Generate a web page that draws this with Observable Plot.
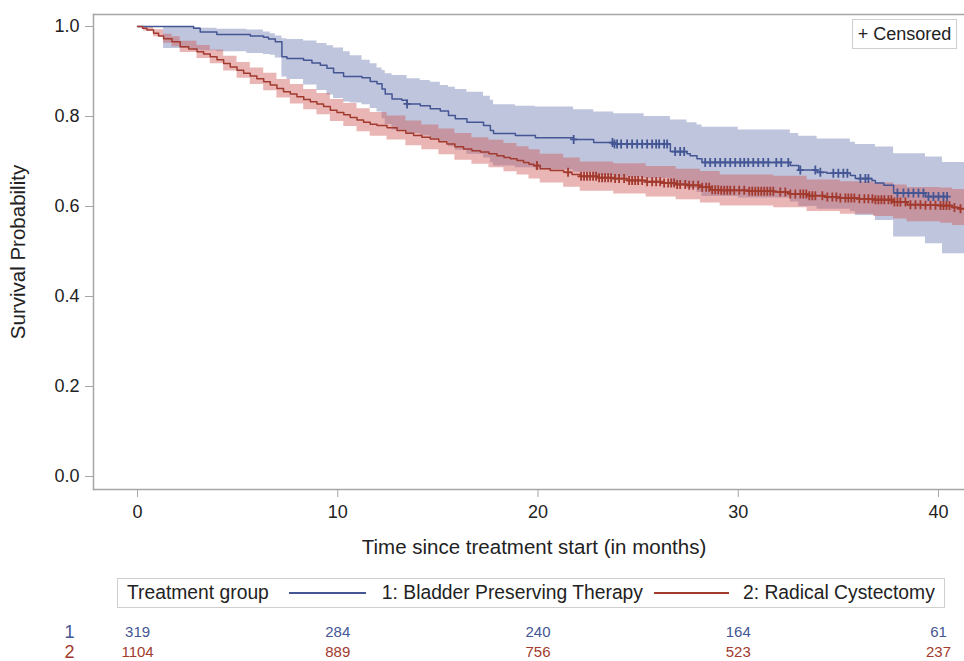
<!DOCTYPE html>
<html>
<head>
<meta charset="utf-8">
<script src="https://cdn.jsdelivr.net/npm/d3@7"></script>
<script src="https://cdn.jsdelivr.net/npm/@observablehq/plot@0.6"></script>
<style>
  html, body { margin: 0; padding: 0; background: #fff; }
  #wrap { position: relative; width: 964px; height: 661px; overflow: hidden; font-family: "Liberation Sans", Arial, sans-serif; color: #222; }
  #main { position: absolute; left: 0; top: 0; }
  #censLegend { position: absolute; left: 852px; top: 19px; width: 105px; height: 30px; box-sizing: border-box; border: 1px solid #cfcfcf; background: #fff; font-size: 18px; line-height: 28px; text-align: center; white-space: nowrap; }
  #legend { position: absolute; left: 117px; top: 578px; width: 828px; height: 30px; box-sizing: border-box; border: 1px solid #cfcfcf; display: flex; align-items: center; font-size: 19.3px; white-space: nowrap; }
  #legend .sw { display: inline-block; height: 1.5px; }
  #risk { position: absolute; left: 0; top: 619px; }
</style>
</head>
<body>
<div id="wrap">
  <div id="main"></div>
  <div id="censLegend">+ Censored</div>
  <div id="legend">
    <span style="margin-left:9px">Treatment group</span>
    <span class="sw" style="margin-left:20px;width:77px;background:#445694"></span>
    <span style="margin-left:16px">1: Bladder Preserving Therapy</span>
    <span class="sw" style="margin-left:11px;width:75px;background:#A23A2E"></span>
    <span style="margin-left:14px">2: Radical Cystectomy</span>
  </div>
  <div id="risk"></div>
</div>
<script>
// ---------- data ----------
const groups = ["1", "2"];
const groupNames = ["1: Bladder Preserving Therapy", "2: Radical Cystectomy"];

// Group 1: Bladder Preserving Therapy (KM step curve)
const blueTime = [0, 2.8, 3.13, 3.96, 5.63, 6.29, 6.54, 6.88, 7.21, 7.46, 8.29, 8.71, 9.13, 9.46, 9.79, 10.29, 11.21, 11.62, 11.96, 12.21, 12.37, 12.71, 13.2, 13.46, 14.12, 14.62, 15.12, 15.53, 15.87, 16.45, 17.28, 17.62, 17.78, 18.87, 19.87, 21.78, 22.78, 23.78, 26.61, 27.44, 27.6, 27.94, 28.19, 32.6, 33.02, 33.94, 34.43, 35.6, 35.85, 36.68, 36.85, 37.27, 37.76, 39.35, 40.43];
const blueSurv = [1.0, 0.996, 0.988, 0.982, 0.979, 0.976, 0.972, 0.966, 0.933, 0.929, 0.925, 0.919, 0.914, 0.907, 0.897, 0.889, 0.886, 0.878, 0.873, 0.861, 0.85, 0.839, 0.836, 0.828, 0.824, 0.817, 0.812, 0.802, 0.795, 0.787, 0.78, 0.769, 0.762, 0.758, 0.753, 0.749, 0.742, 0.739, 0.722, 0.717, 0.713, 0.706, 0.698, 0.691, 0.681, 0.676, 0.674, 0.669, 0.662, 0.658, 0.652, 0.647, 0.63, 0.622, 0.622];
const blueBandTime = [0, 1.3, 2.8, 3.13, 3.96, 5.46, 6.29, 6.63, 6.88, 7.21, 7.46, 8.29, 8.96, 9.46, 9.79, 10.29, 10.62, 11.21, 11.62, 11.96, 12.21, 12.37, 12.71, 13.46, 14.12, 14.62, 15.12, 15.53, 15.87, 16.45, 17.28, 17.62, 17.78, 18.87, 19.87, 21.78, 22.78, 23.78, 25.3, 26.61, 27.44, 27.94, 28.19, 30.0, 32.6, 33.02, 33.94, 35.6, 35.85, 36.85, 37.76, 39.35, 40.2, 41.3];
const blueBandLo = [1.0, 0.951, 0.947, 0.946, 0.944, 0.94, 0.938, 0.936, 0.93, 0.888, 0.882, 0.87, 0.858, 0.848, 0.84, 0.832, 0.83, 0.826, 0.818, 0.81, 0.795, 0.782, 0.77, 0.762, 0.757, 0.75, 0.744, 0.733, 0.725, 0.716, 0.708, 0.697, 0.69, 0.686, 0.681, 0.676, 0.669, 0.665, 0.662, 0.645, 0.64, 0.631, 0.622, 0.619, 0.61, 0.6, 0.594, 0.589, 0.58, 0.569, 0.532, 0.517, 0.495, 0.495];
const blueBandHi = [1.0, 1.0, 0.998, 0.996, 0.994, 0.992, 0.988, 0.984, 0.979, 0.973, 0.971, 0.968, 0.962, 0.957, 0.952, 0.944, 0.935, 0.925, 0.917, 0.908, 0.902, 0.895, 0.891, 0.884, 0.88, 0.876, 0.869, 0.865, 0.86, 0.854, 0.845, 0.836, 0.826, 0.823, 0.821, 0.815, 0.81, 0.806, 0.8, 0.792, 0.786, 0.781, 0.776, 0.77, 0.762, 0.756, 0.75, 0.743, 0.738, 0.732, 0.717, 0.71, 0.698, 0.698];
const blueCensor = [13.46, 21.78, 23.72, 23.82, 23.95, 24.15, 24.45, 24.7, 24.95, 25.2, 25.45, 25.7, 25.9, 26.05, 26.3, 26.45, 26.85, 27.1, 27.3, 28.35, 28.6, 28.85, 29.1, 29.35, 29.6, 29.85, 30.1, 30.3, 30.5, 30.75, 31.0, 31.25, 31.5, 31.9, 32.15, 32.5, 33.1, 33.85, 34.1, 34.75, 35.0, 35.25, 35.45, 36.1, 36.35, 36.5, 37.95, 38.25, 38.5, 38.75, 39.0, 39.25, 39.5, 39.75, 40.0, 40.25, 40.43];

// Group 2: Radical Cystectomy
const redTime = [0, 0.25, 0.47, 0.8, 1.05, 1.3, 1.72, 2.13, 2.55, 2.97, 3.3, 3.63, 3.97, 4.3, 4.63, 4.97, 5.3, 5.63, 5.96, 6.3, 6.63, 6.96, 7.29, 7.63, 7.96, 8.3, 8.63, 8.96, 9.29, 9.63, 9.96, 10.3, 10.62, 10.96, 11.29, 11.62, 11.96, 12.46, 12.96, 13.4, 13.79, 14.2, 14.62, 15.05, 15.45, 15.85, 16.28, 16.7, 17.12, 17.55, 17.95, 18.3, 18.62, 18.95, 19.28, 19.55, 19.78, 20.11, 20.61, 21.28, 21.7, 22.11, 23.0, 23.78, 24.44, 25.4, 26.27, 26.9, 27.44, 28.11, 28.6, 29.1, 30.5, 31.77, 32.6, 33.44, 34.3, 35.1, 36.0, 36.76, 37.76, 38.43, 39.3, 40.1, 40.7, 41.1, 41.3];
const redSurv = [1.0, 0.996, 0.992, 0.985, 0.979, 0.973, 0.966, 0.955, 0.95, 0.944, 0.939, 0.933, 0.926, 0.918, 0.91, 0.903, 0.896, 0.89, 0.884, 0.877, 0.87, 0.862, 0.855, 0.85, 0.844, 0.838, 0.833, 0.828, 0.822, 0.814, 0.809, 0.804, 0.798, 0.792, 0.787, 0.783, 0.78, 0.775, 0.769, 0.763, 0.758, 0.754, 0.75, 0.744, 0.739, 0.733, 0.728, 0.724, 0.721, 0.717, 0.713, 0.709, 0.706, 0.702, 0.698, 0.694, 0.691, 0.684, 0.68, 0.676, 0.671, 0.667, 0.664, 0.662, 0.658, 0.655, 0.652, 0.649, 0.647, 0.643, 0.637, 0.636, 0.634, 0.632, 0.628, 0.624, 0.621, 0.619, 0.617, 0.615, 0.61, 0.604, 0.603, 0.602, 0.598, 0.595, 0.595];
const redBandTime = [0, 0.3, 0.8, 1.3, 1.72, 2.13, 2.97, 3.63, 4.3, 4.97, 5.63, 6.3, 6.96, 7.63, 8.3, 8.96, 9.63, 10.3, 10.96, 11.62, 12.46, 13.4, 14.2, 15.05, 15.85, 16.7, 17.55, 18.3, 18.95, 19.55, 20.11, 21.28, 22.11, 23.78, 25.4, 26.9, 28.11, 29.1, 31.77, 33.44, 35.1, 36.76, 37.76, 38.43, 40.1, 40.7, 41.3];
const redBandLo = [1.0, 0.99, 0.977, 0.963, 0.955, 0.942, 0.929, 0.917, 0.901, 0.885, 0.871, 0.857, 0.841, 0.828, 0.815, 0.804, 0.789, 0.778, 0.766, 0.756, 0.748, 0.735, 0.726, 0.715, 0.703, 0.694, 0.686, 0.677, 0.67, 0.661, 0.652, 0.643, 0.634, 0.628, 0.621, 0.615, 0.608, 0.601, 0.597, 0.589, 0.583, 0.578, 0.572, 0.566, 0.563, 0.558, 0.558];
const redBandHi = [1.0, 1.0, 0.993, 0.983, 0.977, 0.967, 0.958, 0.948, 0.934, 0.92, 0.908, 0.896, 0.882, 0.871, 0.86, 0.851, 0.838, 0.829, 0.817, 0.809, 0.801, 0.79, 0.781, 0.772, 0.762, 0.753, 0.747, 0.74, 0.733, 0.726, 0.716, 0.708, 0.699, 0.695, 0.689, 0.683, 0.678, 0.67, 0.667, 0.659, 0.655, 0.652, 0.648, 0.642, 0.641, 0.638, 0.638];
const redCensor = [19.95, 21.5, 22.15, 22.3, 22.45, 22.6, 22.75, 22.9, 23.05, 23.2, 23.35, 23.5, 23.65, 23.85, 24.05, 24.3, 24.55, 24.7, 24.85, 25.0, 25.2, 25.45, 25.7, 25.9, 26.1, 26.3, 26.5, 26.65, 26.8, 26.95, 27.1, 27.35, 27.55, 27.75, 28.0, 28.2, 28.4, 28.55, 28.7, 28.85, 29.0, 29.15, 29.3, 29.45, 29.6, 29.8, 30.05, 30.3, 30.55, 30.7, 30.85, 31.0, 31.15, 31.3, 31.45, 31.6, 31.75, 32.1, 32.35, 32.6, 32.85, 33.1, 33.25, 33.4, 33.55, 33.7, 33.85, 34.2, 34.45, 34.7, 34.9, 35.1, 35.35, 35.5, 35.65, 35.8, 36.05, 36.3, 36.5, 36.7, 36.85, 37.0, 37.15, 37.3, 37.5, 37.65, 37.8, 37.95, 38.1, 38.35, 38.6, 38.85, 39.1, 39.35, 39.6, 39.85, 40.1, 40.25, 40.4, 40.55, 40.8, 41.1];

// Numbers at risk
const riskTimes = [0, 10, 20, 30, 40];
const riskBlue = [319, 284, 240, 164, 61];
const riskRed = [1104, 889, 756, 523, 237];

const xTicks = [0, 10, 20, 30, 40];
const yTicks = [0, 0.2, 0.4, 0.6, 0.8, 1.0];

// ---------- styling ----------
const BLUE = "#445694", RED = "#A23A2E";
const BLUE_FILL = "#6F7EB3", RED_FILL = "#D05B5B";
const AXIS = "#a6a6a6";
const FONT = '"Liberation Sans", Arial, sans-serif';
const xDomain = [-2.2, 41.3];
const yDomain = [-0.0289, 1.0267];

// ---------- build tables ----------
const toRows = (t, s) => t.map((d, i) => ({t: d, s: s[i]}));
const toBand = (t, lo, hi) => t.map((d, i) => ({t: d, lo: lo[i], hi: hi[i]}));
const stepAt = (times, surv, t) => surv[Math.max(0, d3.bisectRight(times, t) - 1)];
const blueLine = toRows(blueTime, blueSurv);
const redLine = toRows(redTime, redSurv);
const blueBand = toBand(blueBandTime, blueBandLo, blueBandHi);
const redBand = toBand(redBandTime, redBandLo, redBandHi);
const blueCens = blueCensor.map(t => ({t, s: stepAt(blueTime, blueSurv, t)}));
const redCens = redCensor.map(t => ({t, s: stepAt(redTime, redSurv, t)}));

const plusSymbol = {
  draw(context, size) {
    const r = Math.sqrt(size / Math.PI);
    context.moveTo(-r * 0.8, 0); context.lineTo(r * 0.8, 0);
    context.moveTo(0, -r); context.lineTo(0, r);
  }
};

const main = Plot.plot({
  width: 964, height: 565,
  marginLeft: 93, marginRight: 0, marginTop: 14, marginBottom: 76,
  style: {fontFamily: FONT, fontSize: "18px", color: "#222", background: "#fff", overflow: "visible"},
  x: {domain: xDomain},
  y: {domain: yDomain},
  marks: [
    Plot.areaY(blueBand, {x: "t", y1: "lo", y2: "hi", curve: "step-after", fill: BLUE_FILL, fillOpacity: 0.45, clip: true}),
    Plot.areaY(redBand, {x: "t", y1: "lo", y2: "hi", curve: "step-after", fill: RED_FILL, fillOpacity: 0.45, clip: true}),
    Plot.line(blueLine, {x: "t", y: "s", curve: "step-after", stroke: BLUE, strokeWidth: 1.5, clip: true}),
    Plot.line(redLine, {x: "t", y: "s", curve: "step-after", stroke: RED, strokeWidth: 1.5, clip: true}),
    Plot.dot(blueCens, {x: "t", y: "s", symbol: plusSymbol, r: 4.5, stroke: BLUE, strokeWidth: 1.8, fill: "none", clip: true}),
    Plot.dot(redCens, {x: "t", y: "s", symbol: plusSymbol, r: 4.5, stroke: RED, strokeWidth: 1.8, fill: "none", clip: true}),
    Plot.frame({anchor: "top", stroke: AXIS, strokeWidth: 1.5}),
    Plot.frame({anchor: "left", stroke: AXIS, strokeWidth: 1.5}),
    Plot.frame({anchor: "bottom", stroke: AXIS, strokeWidth: 1.5}),
    Plot.axisX({ticks: xTicks, tickSize: 8, tickPadding: 8, stroke: AXIS, color: "#222", fontSize: 18, label: null}),
    Plot.axisY({ticks: yTicks, tickFormat: d3.format(".1f"), tickSize: 8, tickPadding: 6, stroke: AXIS, color: "#222", fontSize: 18, label: null}),
    Plot.text(["Time since treatment start (in months)"], {frameAnchor: "bottom", textAnchor: "middle", dy: 58, dx: 5, lineAnchor: "middle", fontSize: 20.5, fill: "#222"}),
    Plot.text(["Survival Probability"], {frameAnchor: "left", textAnchor: "middle", rotate: -90, dx: -75, lineAnchor: "middle", fontSize: 20.5, fill: "#222"})
  ]
});
document.getElementById("main").appendChild(main);

const riskRows = [
  ...riskTimes.map((t, i) => ({t, g: groups[0], n: riskBlue[i]})),
  ...riskTimes.map((t, i) => ({t, g: groups[1], n: riskRed[i]}))
];
const groupColor = {"1": BLUE, "2": RED};

const risk = Plot.plot({
  width: 964, height: 46,
  marginLeft: 93, marginRight: 0, marginTop: 3, marginBottom: 3,
  style: {fontFamily: FONT, fontSize: "15px", background: "transparent", overflow: "visible"},
  x: {domain: xDomain, axis: null},
  y: {type: "band", domain: groups, padding: 0, axis: null},
  marks: [
    Plot.text(riskRows, {x: "t", y: "g", text: d => String(d.n), fill: d => groupColor[d.g], fontSize: 15}),
    Plot.axisY({tickSize: 0, tickPadding: 19, fontSize: 18, fill: d => groupColor[d], label: null})
  ]
});
document.getElementById("risk").appendChild(risk);
</script>
</body>
</html>
